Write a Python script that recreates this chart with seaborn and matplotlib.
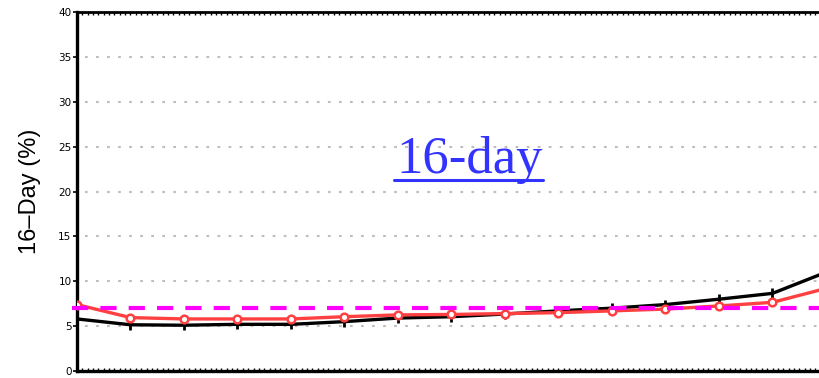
import numpy as np
import pandas as pd
import matplotlib
matplotlib.use("Agg")
import matplotlib.pyplot as plt
from matplotlib.lines import Line2D
from matplotlib.ticker import MultipleLocator
import seaborn as sns

# Forecast lead index and the two 16-day series (%)
lead = list(range(15))
series_black = [5.8, 5.15, 5.1, 5.2, 5.2, 5.5, 5.9, 6.05, 6.35, 6.7, 7.0, 7.4, 8.0, 8.65, 11.0]
series_red = [7.4, 5.95, 5.8, 5.8, 5.8, 6.05, 6.25, 6.3, 6.4, 6.5, 6.7, 6.9, 7.25, 7.65, 9.2]
reference_level = 7.0
y_ticks = [0, 5, 10, 15, 20, 25, 30, 35, 40]
title_text = "16-day"
y_label = "16\u2013Day (%)"

sns.set_theme(style="white")
plt.rcParams["font.family"] = ["DejaVu Sans"]

W, H = 820, 378
fig = plt.figure(figsize=(W / 100, H / 100), dpi=100)
ax = fig.add_axes([77 / W, 1 - 371 / H, 1 - 77 / W, (371 - 12) / H])

df = pd.DataFrame({"lead": lead, "black": series_black, "red": series_red})

sns.lineplot(data=df, x="lead", y="black", ax=ax, color="black", lw=2.4,
             marker="|", markersize=7, markeredgewidth=2, markeredgecolor="black",
             zorder=4)
sns.lineplot(data=df, x="lead", y="red", ax=ax, color="#ff4040", lw=2.4,
             marker="o", markersize=5.5, markerfacecolor="white",
             markeredgecolor="#ff4040", markeredgewidth=1.8, zorder=5)

ax.plot([-0.1, 15], [reference_level, reference_level], color="#ff00ff", lw=3,
        dashes=(3.9, 2.9), clip_on=False, zorder=6)

x_max = (820 - 77) / 53.5
ax.set_xlim(0, x_max)
ax.set_ylim(0, 40)
ax.set_yticks(y_ticks)
ax.set_yticklabels([str(v) for v in y_ticks], fontsize=7.5, color="black",
                   family=["Liberation Sans Narrow", "DejaVu Sans"])
ax.set_xticks([])
ax.xaxis.set_minor_locator(MultipleLocator(0.1))
ax.tick_params(axis="x", which="minor", bottom=True, top=True, direction="out",
               length=2, width=1, color="black")
ax.tick_params(axis="x", which="minor", top=True, direction="in")
ax.tick_params(axis="y", which="major", left=True, direction="out", length=3,
               width=1.2, color="black", pad=1)

# dotted horizontal guide lines at each labelled level
for v in y_ticks[1:-1]:
    ax.plot([0.15, x_max], [v, v], color="#bdbdbd", lw=1.5, dashes=(1.3, 4),
            zorder=1)

ax.set_xlabel("")
ax.set_ylabel(y_label, fontsize=17, color="black",
              family=["Liberation Sans", "DejaVu Sans"])
ax.yaxis.set_label_coords(-0.0485, 0.5)

for side in ("left", "bottom"):
    ax.spines[side].set_color("black")
    ax.spines[side].set_linewidth(2.4)
ax.spines["top"].set_color("black")
ax.spines["top"].set_linewidth(2)
ax.spines["right"].set_visible(False)

# Title with hyperlink-style underline
blue = "#3333ff"
fig.text(470 / W, 1 - 173 / H, title_text, ha="center", va="baseline",
         fontsize=38, color=blue, family=["Liberation Serif", "DejaVu Serif"])
fig.add_artist(Line2D([394 / W, 543 / W], [1 - 180 / H] * 2, lw=2.2, color=blue))

fig.savefig("out.png", dpi=100)
